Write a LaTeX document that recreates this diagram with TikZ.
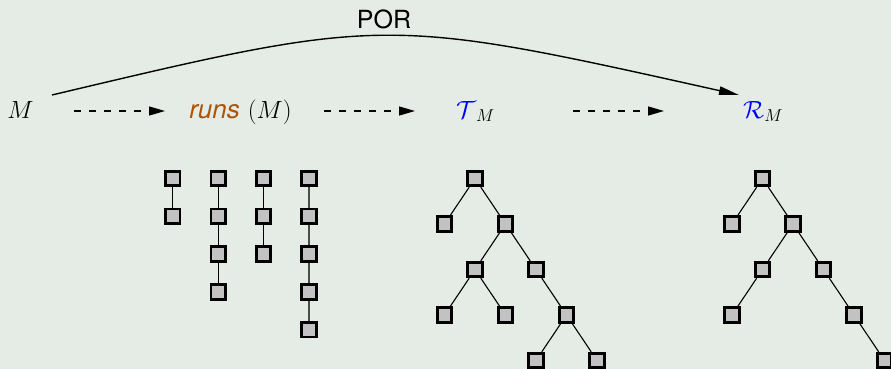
\documentclass[tikz,border=0pt]{standalone}
\usepackage{fontspec}
\setsansfont{TeX Gyre Heros}
\usetikzlibrary{arrows.meta}
\definecolor{bg}{RGB}{229,236,229}
\definecolor{runc}{RGB}{170,85,10}
\definecolor{boxfill}{RGB}{194,194,194}
\begin{document}
\begin{tikzpicture}[x=1pt,y=-1pt,
  box/.style={rectangle, draw=black, line width=2.8pt, fill=boxfill, minimum size=14.5pt, inner sep=0pt},
  edge/.style={line width=1.1pt, black},
  thickedge/.style={line width=1.8pt, black!70},
  dasharrow/.style={line width=1.3pt, dash pattern=on 7pt off 8pt, -{Triangle[length=16pt,width=9pt]}},
  lbl/.style={inner sep=0pt, anchor=base, font=\fontsize{27}{30}\selectfont}]
\fill[bg] (0,0) rectangle (891,369);
\useasboundingbox (0,0) rectangle (891,369);

% labels
\node[lbl] (M) at (20.5,118) {$M$};
\node[lbl] (runs) at (240.5,118) {\textcolor{runc}{\sffamily\itshape\fontsize{26}{30}\selectfont runs} $(M)$};
\node[lbl, anchor=base west] (T) at (456,118) {$\textcolor{blue}{\mathcal{T}}_{M}$};
\node[lbl, anchor=base west] (R) at (743,118) {$\textcolor{blue}{\mathcal{R}}_{M}$};
\node[inner sep=0pt, anchor=base, font=\sffamily\fontsize{25}{28}\selectfont] (por) at (384,28.3) {POR};

% dashed arrows
\coordinate (a1s) at (74,111);  \coordinate (a1e) at (165,111);
\coordinate (a2s) at (324,111); \coordinate (a2e) at (415,111);
\coordinate (a3s) at (573,111); \coordinate (a3e) at (664,111);
\draw[dasharrow] (a1s) -- (a1e);
\draw[dasharrow] (a2s) -- (a2e);
\draw[dasharrow] (a3s) -- (a3e);

% POR curve
\coordinate (ps) at (52,95);
\coordinate (pe) at (739,95);
\draw[line width=1.4pt, -{Triangle[length=20pt,width=8.5pt]}] (ps) .. controls (385,16) .. (pe);

% runs
\foreach \c/\x/\n in {1/172.7/2, 2/218.3/4, 3/263.5/3, 4/309/5} {
  \foreach \k in {1,...,\n} {
    \node[box] (c\c-\k) at (\x,{178.5+37.8*(\k-1)}) {};
  }
}
\draw[edge] (c1-1) -- (c1-2);
\draw[edge] (c2-1) -- (c2-2) (c2-2) -- (c2-3) (c2-3) -- (c2-4);
\draw[edge] (c3-1) -- (c3-2) (c3-2) -- (c3-3);
\draw[thickedge] (c4-1) -- (c4-2) (c4-2) -- (c4-3) (c4-3) -- (c4-4) (c4-4) -- (c4-5);

% tree T
\node[box] (t0) at (475,178.5) {};
\node[box] (t1) at (444.5,224) {};
\node[box] (t2) at (505.5,224) {};
\node[box] (t3) at (475,269.5) {};
\node[box] (t4) at (536,269.5) {};
\node[box] (t5) at (444.5,315) {};
\node[box] (t6) at (505.5,315) {};
\node[box] (t7) at (566.5,315) {};
\node[box] (t8) at (536,360.5) {};
\node[box] (t9) at (597,360.5) {};
\draw[edge] (t0) -- (t1) (t0) -- (t2) (t2) -- (t3) (t2) -- (t4)
  (t3) -- (t5) (t3) -- (t6) (t4) -- (t7) (t7) -- (t8) (t7) -- (t9);

% tree R
\node[box] (r0) at (762.5,178.5) {};
\node[box] (r1) at (732,224) {};
\node[box] (r2) at (793,224) {};
\node[box] (r3) at (762.5,269.5) {};
\node[box] (r4) at (823.5,269.5) {};
\node[box] (r5) at (732,315) {};
\node[box] (r6) at (854,315) {};
\node[box] (r7) at (884.5,360.5) {};
\draw[edge] (r0) -- (r1) (r0) -- (r2) (r2) -- (r3) (r2) -- (r4)
  (r3) -- (r5) (r4) -- (r6) (r6) -- (r7);
\end{tikzpicture}
\end{document}
